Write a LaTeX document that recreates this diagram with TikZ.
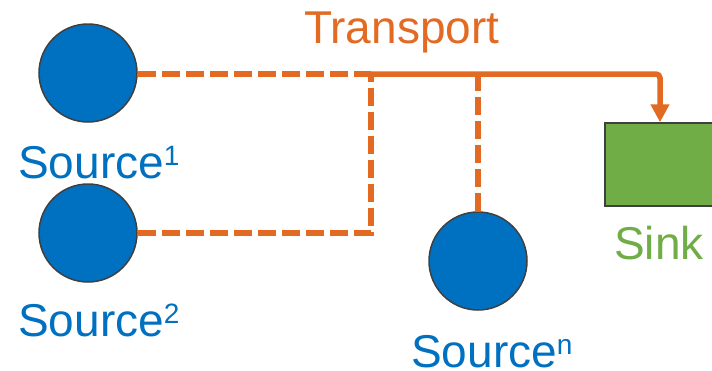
\documentclass[tikz,border=0pt]{standalone}
\usepackage{fontspec}
\setmainfont{Liberation Sans}
\usetikzlibrary{arrows.meta}
\definecolor{flow}{RGB}{226,106,34}
\definecolor{srcblue}{RGB}{0,112,192}
\definecolor{sinkgreen}{RGB}{112,173,71}
\definecolor{rim}{RGB}{64,64,64}
\newcommand{\supmark}[1]{\raisebox{13pt}{\fontsize{28}{28}\selectfont #1}}
\tikzset{
  source/.style={circle, minimum size=98pt, inner sep=0pt, fill=srcblue, draw=rim, line width=1.5pt},
  sinkbox/.style={rectangle, minimum width=110pt, minimum height=83pt, inner sep=0pt, fill=sinkgreen, draw=rim, line width=1.5pt},
  lbl/.style={anchor=base west, inner sep=0pt, text depth=0pt, font=\fontsize{46}{50}\selectfont},
  pipe/.style={draw=flow, line width=5.5pt},
  dashpipe/.style={pipe, dash pattern=on 18pt off 6pt},
}
\begin{document}
\begin{tikzpicture}[x=1pt, y=-1pt]
  \useasboundingbox (0,0) rectangle (712,370);

  % sources and sink
  \node[source] (s1) at (88,73) {};
  \node[source] (s2) at (88,233) {};
  \node[source] (sn) at (478,261) {};
  \node[sinkbox] (sink) at (660,164.5) {};

  % labels
  \node[lbl, text=flow] (tr) at (304,43) {Transport};
  \node[lbl, text=srcblue] (l1) at (18,178) {Source\supmark{1}};
  \node[lbl, text=srcblue] (l2) at (18,336) {Source\supmark{2}};
  \node[lbl, text=srcblue] (ln) at (411,367) {Source\supmark{n}};
  \node[lbl, text=sinkgreen] (lk) at (614,259) {Sink};

  % junctions on the transport line
  \coordinate (j1) at (371,74);
  \coordinate (j2) at (478,74);
  \coordinate (c2) at (371,233);
  \coordinate (bend) at (660,74);

  % feeder lines
  \draw[dashpipe] (s1.east |- j1) -- (j1);
  \draw[dashpipe] (s2.east) -- (c2) -- (j1);
  \draw[dashpipe] (sn.north) -- (j2);

  % main transport line to the sink
  \draw[pipe, rounded corners=4pt, -{Triangle[width=18pt,length=18pt]}] (j1) -- (bend) -- (sink.north);
\end{tikzpicture}
\end{document}
